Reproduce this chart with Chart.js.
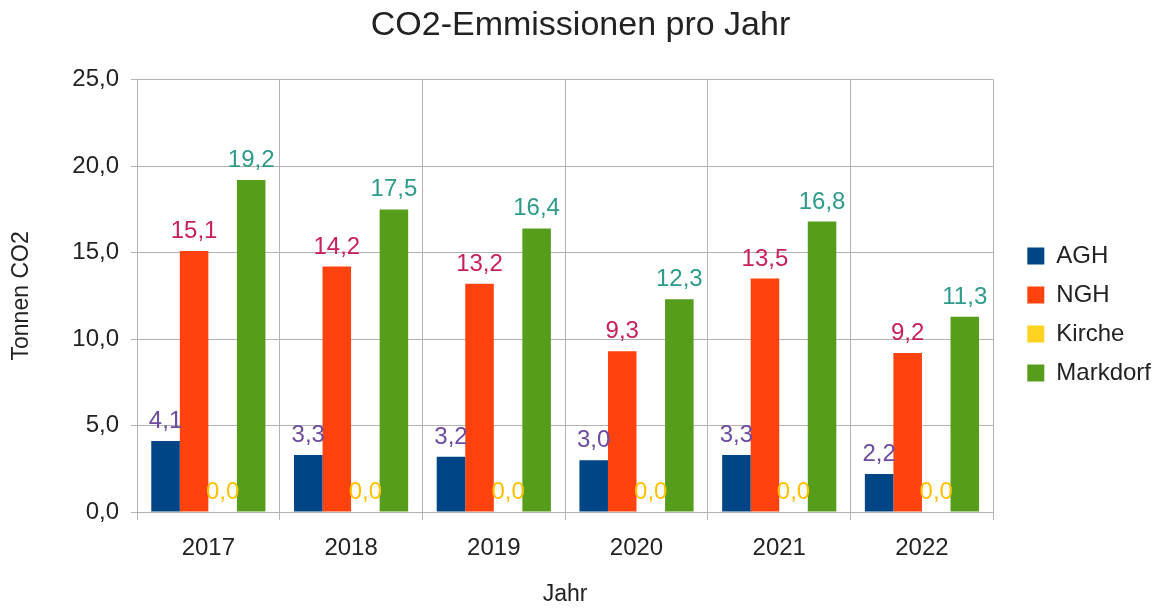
<!DOCTYPE html>
<html>
<head>
<meta charset="utf-8">
<script src="https://cdn.jsdelivr.net/npm/chart.js@4"></script>
<style>
  html, body { margin: 0; padding: 0; background: #fff; }
</style>
</head>
<body>
<canvas id="co2Chart" width="1161" height="608"></canvas>
<script>
// chart data
const years = ['2017', '2018', '2019', '2020', '2021', '2022'];
const agh = [4.1, 3.3, 3.2, 3.0, 3.3, 2.2];
const ngh = [15.1, 14.2, 13.2, 9.3, 13.5, 9.2];
const kirche = [0, 0, 0, 0, 0, 0];
const markdorf = [19.2, 17.5, 16.4, 12.3, 16.8, 11.3];
const seriesNames = ['AGH', 'NGH', 'Kirche', 'Markdorf'];

const barColors = ['#004586', '#ff420e', '#ffd320', '#579d1c'];
const labelColors = ['#6b4ba0', '#c8205a', '#ffc000', '#2e9b8a'];

Chart.defaults.font.family = '"Liberation Sans", Arial, sans-serif';

function fmt(v) {
  return v.toFixed(1).replace('.', ',');
}

// value labels above every bar
const valueLabels = {
  id: 'valueLabels',
  afterDatasetsDraw(chart) {
    const ctx = chart.ctx;
    ctx.save();
    ctx.font = '24px "Liberation Sans", Arial, sans-serif';
    ctx.textAlign = 'center';
    ctx.textBaseline = 'alphabetic';
    chart.data.datasets.forEach((ds, i) => {
      const meta = chart.getDatasetMeta(i);
      if (meta.hidden) return;
      meta.data.forEach((bar, j) => {
        ctx.fillStyle = labelColors[i];
        ctx.fillText(fmt(ds.data[j]), bar.x, bar.y - 13);
      });
    });
    ctx.restore();
  }
};

const allSeries = [agh, ngh, kirche, markdorf];
const gridColor = '#b3b3b3';

new Chart(document.getElementById('co2Chart'), {
  type: 'bar',
  data: {
    labels: years,
    datasets: allSeries.map((vals, i) => ({
      label: seriesNames[i],
      data: vals,
      backgroundColor: barColors[i],
      borderWidth: 0,
      categoryPercentage: 0.8,
      barPercentage: 1.0
    }))
  },
  options: {
    responsive: false,
    animation: false,
    devicePixelRatio: 1,
    layout: { padding: { top: 0, right: 0, bottom: 0, left: 0 } },
    plugins: {
      title: {
        display: true,
        text: 'CO2-Emmissionen pro Jahr',
        color: '#222',
        font: { size: 34, weight: 'normal' },
        padding: { top: 5, bottom: 34 }
      },
      legend: {
        position: 'right',
        title: { display: true, text: ' ', font: { size: 10, lineHeight: 2.1 }, padding: 0 },
        labels: {
          color: '#222',
          font: { size: 24 },
          boxWidth: 17,
          boxHeight: 17,
          padding: 15
        }
      },
      tooltip: { enabled: false }
    },
    scales: {
      x: {
        grid: { color: gridColor, tickLength: 8, offset: true },
        border: { color: gridColor },
        ticks: { color: '#222', font: { size: 24 }, padding: 14 },
        title: { display: true, text: 'Jahr', color: '#222', font: { size: 23 }, padding: { top: 0, bottom: 0 } },
        afterFit: s => { s.height = 96; }
      },
      y: {
        min: 0,
        max: 25,
        grid: { color: gridColor, tickLength: 6 },
        border: { color: gridColor },
        ticks: { stepSize: 5, color: '#222', font: { size: 24 }, padding: 12, callback: v => fmt(v) },
        title: { display: true, text: 'Tonnen CO2', color: '#222', font: { size: 23 }, padding: { top: 8, bottom: 0 } },
        afterFit: s => { s.width = 137; }
      },
      // empty gap between the plot and the legend
      spacer: {
        type: 'linear',
        position: 'right',
        grid: { display: false, drawTicks: false },
        border: { display: false },
        ticks: { display: false },
        afterFit: s => { s.width = 19; }
      }
    }
  },
  plugins: [valueLabels]
});
</script>
</body>
</html>
